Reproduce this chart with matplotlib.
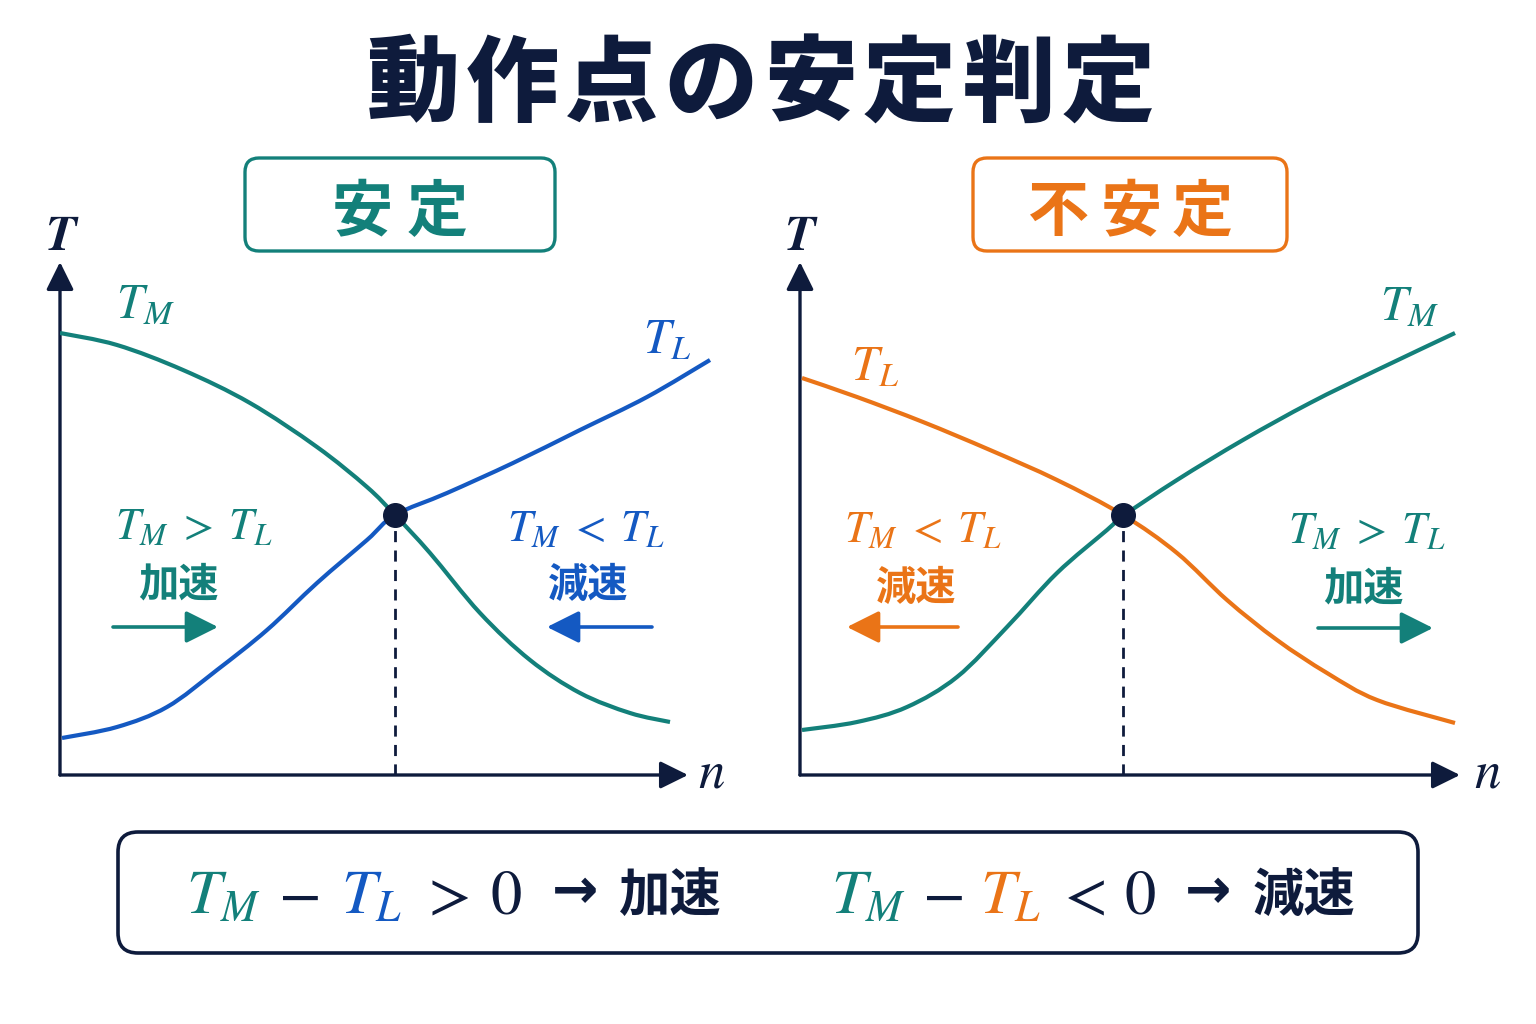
import matplotlib
matplotlib.use("Agg")
import matplotlib.pyplot as plt
from matplotlib.patches import FancyBboxPatch, PathPatch
from matplotlib.path import Path

plt.rcParams['font.family'] = ['Noto Sans CJK JP', 'DejaVu Sans']
plt.rcParams['mathtext.fontset'] = 'stix'

# ---------------- data (n, T) ----------------
# Stable panel
stable_TM_n = [0.00, 0.57, 1.23, 1.90, 2.57, 3.07, 3.35, 3.70, 4.20, 4.70, 5.20, 5.70, 6.10]
stable_TM_T = [4.42, 4.30, 4.05, 3.72, 3.28, 2.88, 2.60, 2.22, 1.62, 1.15, 0.82, 0.62, 0.53]
stable_TL_n = [0.02, 0.57, 1.07, 1.57, 2.07, 2.57, 3.07, 3.35, 3.87, 4.53, 5.20, 5.87, 6.50]
stable_TL_T = [0.37, 0.48, 0.68, 1.05, 1.45, 1.92, 2.35, 2.60, 2.82, 3.12, 3.45, 3.78, 4.15]
stable_op = (3.35, 2.60)

# Unstable panel
unstable_TL_n = [0.02, 0.57, 1.23, 1.90, 2.57, 3.23, 3.77, 4.27, 4.77, 5.27, 5.77, 6.55]
unstable_TL_T = [3.97, 3.78, 3.53, 3.25, 2.95, 2.60, 2.22, 1.75, 1.35, 1.02, 0.75, 0.52]
unstable_TM_n = [0.02, 0.57, 1.07, 1.57, 2.07, 2.57, 3.07, 3.23, 3.77, 4.43, 5.10, 5.77, 6.55]
unstable_TM_T = [0.45, 0.53, 0.68, 0.98, 1.48, 2.02, 2.45, 2.59, 2.95, 3.35, 3.72, 4.05, 4.42]
unstable_op = (3.23, 2.60)

title = "動作点の安定判定"
stable_label = "安定"
unstable_label = "不安定"

# ---------------- styles ----------------
TEAL = '#13807a'
BLUE = '#1459c2'
ORANGE = '#ea7417'
NAVY = '#0e1b3c'

W, H = 1536, 1024
fig = plt.figure(figsize=(W / 100, H / 100), dpi=100)
fig.patch.set_facecolor('white')

# overlay in pixel coordinates for annotations
ov = fig.add_axes([0, 0, 1, 1])
ov.set_xlim(0, W)
ov.set_ylim(H, 0)
ov.axis('off')


def px_axes(x0, x1, y_top, y_bot, xlim, ylim):
    ax = fig.add_axes([x0 / W, 1 - y_bot / H, (x1 - x0) / W, (y_bot - y_top) / H])
    ax.set_xlim(*xlim)
    ax.set_ylim(*ylim)
    ax.axis('off')
    ax.patch.set_alpha(0)
    return ax


axL = px_axes(60, 720, 262, 775, (0, 6.6), (0, 5.13))
axR = px_axes(800, 1470, 262, 775, (0, 6.7), (0, 5.13))


def draw_axes_arrows(ax, xtip):
    ap = dict(arrowstyle='-|>,head_length=0.85,head_width=0.42', lw=2.4, color=NAVY,
              shrinkA=0, shrinkB=0, mutation_scale=20)
    ax.annotate('', xy=(0, 5.13), xytext=(0, 0), arrowprops=ap, annotation_clip=False)
    ax.annotate('', xy=(xtip, 0), xytext=(0, 0), arrowprops=ap, annotation_clip=False)


def smooth_curve(ax, xs, ys, color, lw=3.0, z=3):
    """Draw a smooth curve through the read points (Catmull-Rom as cubic Bezier)."""
    pts = list(zip(xs, ys))
    n = len(pts)
    verts = [pts[0]]
    codes = [Path.MOVETO]
    for i in range(n - 1):
        p0 = pts[i - 1] if i > 0 else pts[i]
        p1 = pts[i]
        p2 = pts[i + 1]
        p3 = pts[i + 2] if i + 2 < n else pts[i + 1]
        c1 = (p1[0] + (p2[0] - p0[0]) / 6, p1[1] + (p2[1] - p0[1]) / 6)
        c2 = (p2[0] - (p3[0] - p1[0]) / 6, p2[1] - (p3[1] - p1[1]) / 6)
        verts += [c1, c2, p2]
        codes += [Path.CURVE4] * 3
    ax.add_patch(PathPatch(Path(verts, codes), fill=False, ec=color, lw=lw,
                           capstyle='butt', joinstyle='round', zorder=z))


draw_axes_arrows(axL, 6.28)
draw_axes_arrows(axR, 6.6)

smooth_curve(axL, stable_TM_n, stable_TM_T, TEAL)
smooth_curve(axL, stable_TL_n, stable_TL_T, BLUE)
axL.plot([stable_op[0], stable_op[0]], [0, stable_op[1]], color=NAVY, lw=2.0,
         dashes=(4, 3), zorder=2)
axL.plot([stable_op[0]], [stable_op[1]], 'o', color=NAVY, ms=17, zorder=5)

smooth_curve(axR, unstable_TL_n, unstable_TL_T, ORANGE)
smooth_curve(axR, unstable_TM_n, unstable_TM_T, TEAL)
axR.plot([unstable_op[0], unstable_op[0]], [0, unstable_op[1]], color=NAVY, lw=2.0,
         dashes=(4, 3), zorder=2)
axR.plot([unstable_op[0]], [unstable_op[1]], 'o', color=NAVY, ms=17, zorder=5)

# ---------------- title ----------------
for i, ch in enumerate(title):
    ov.text(413 + 99.3 * i, 86, ch, ha='center', va='center', fontsize=67,
            fontweight='heavy', color=NAVY)

# ---------------- panel header boxes ----------------
def rbox(x0, y0, x1, y1, color, lw, r):
    ov.add_patch(FancyBboxPatch((x0, y0), x1 - x0, y1 - y0,
                                boxstyle=f'round,pad=0,rounding_size={r}',
                                fc='white', ec=color, lw=lw, zorder=1))


rbox(245, 158, 555, 251, TEAL, 2.4, 14)
rbox(973, 158, 1287, 251, ORANGE, 2.4, 14)
for ch, cx in zip(stable_label, [362, 437]):
    ov.text(cx, 213, ch, ha='center', va='center', fontsize=44, fontweight='bold', color=TEAL)
for ch, cx in zip(unstable_label, [1059, 1131, 1202]):
    ov.text(cx, 213, ch, ha='center', va='center', fontsize=44, fontweight='bold', color=ORANGE)

# ---------------- axis labels ----------------
for x in (61, 800):
    ov.text(x, 250, 'T', ha='center', va='baseline', fontsize=36, color=NAVY,
            family='STIXGeneral', style='italic', fontweight='bold')
for x in (711, 1487):
    ov.text(x, 787, 'n', ha='center', va='baseline', fontsize=38, color=NAVY,
            family='STIXGeneral', style='italic')

# curve labels
ov.text(116, 318, r'$T_M$', ha='left', va='baseline', fontsize=35, color=TEAL)
ov.text(643, 353, r'$T_L$', ha='left', va='baseline', fontsize=35, color=BLUE)
ov.text(851, 380, r'$T_L$', ha='left', va='baseline', fontsize=35, color=ORANGE)
ov.text(1380, 320, r'$T_M$', ha='left', va='baseline', fontsize=35, color=TEAL)


# region annotations
def region(xc, y_base, rel, word, xw, y_word, color, ax0, ax1, yarr):
    ov.text(xc, y_base, r'$T_M\;%s\;T_L$' % rel, ha='center', va='baseline', fontsize=32,
            color=color)
    ov.text(xw, y_word, word, ha='center', va='center', fontsize=29, fontweight='bold',
            color=color)
    ov.annotate('', xy=(ax1, yarr), xytext=(ax0, yarr),
                arrowprops=dict(arrowstyle='-|>,head_length=0.9,head_width=0.45', lw=2.6,
                                color=color, shrinkA=0, shrinkB=0, mutation_scale=22))


region(194, 539, '>', '加速', 178, 585, TEAL, 113, 218, 627)
region(586, 541, '<', '減速', 588, 585, BLUE, 652, 547, 627)
region(923, 542, '<', '減速', 916, 588, ORANGE, 958, 847, 627)
region(1367, 543, '>', '加速', 1363, 589, TEAL, 1318, 1433, 628)

# ---------------- bottom summary box ----------------
rbox(118, 832, 1418, 953, NAVY, 2.6, 20)

BASE = 914
FS = 45


def piece(x, s, color, **kw):
    ov.text(x, BASE, s, ha='left', va='baseline', fontsize=FS, color=color, **kw)


def op(x, s):
    ov.text(x, BASE, s, ha='left', va='baseline', fontsize=FS, color=NAVY,
            family='STIXGeneral')


# line 1
piece(186, r'$T_M$', TEAL)
op(279, '−')
piece(341, r'$T_L$', BLUE)
op(428, '>')
op(490, '0')
ov.text(575, 893, '→', ha='center', va='center', fontsize=40, fontweight='bold', color=NAVY,
        family='DejaVu Sans')
ov.text(670, 895, '加速', ha='center', va='center', fontsize=37, fontweight='bold', color=NAVY)

# line 2
piece(831, r'$T_M$', TEAL)
op(923, '−')
piece(980, r'$T_L$', ORANGE)
op(1064, '<')
op(1125, '0')
ov.text(1208, 893, '→', ha='center', va='center', fontsize=40, fontweight='bold', color=NAVY,
        family='DejaVu Sans')
ov.text(1304, 895, '減速', ha='center', va='center', fontsize=37, fontweight='bold', color=NAVY)

fig.savefig('out.png', dpi=100, facecolor='white')
